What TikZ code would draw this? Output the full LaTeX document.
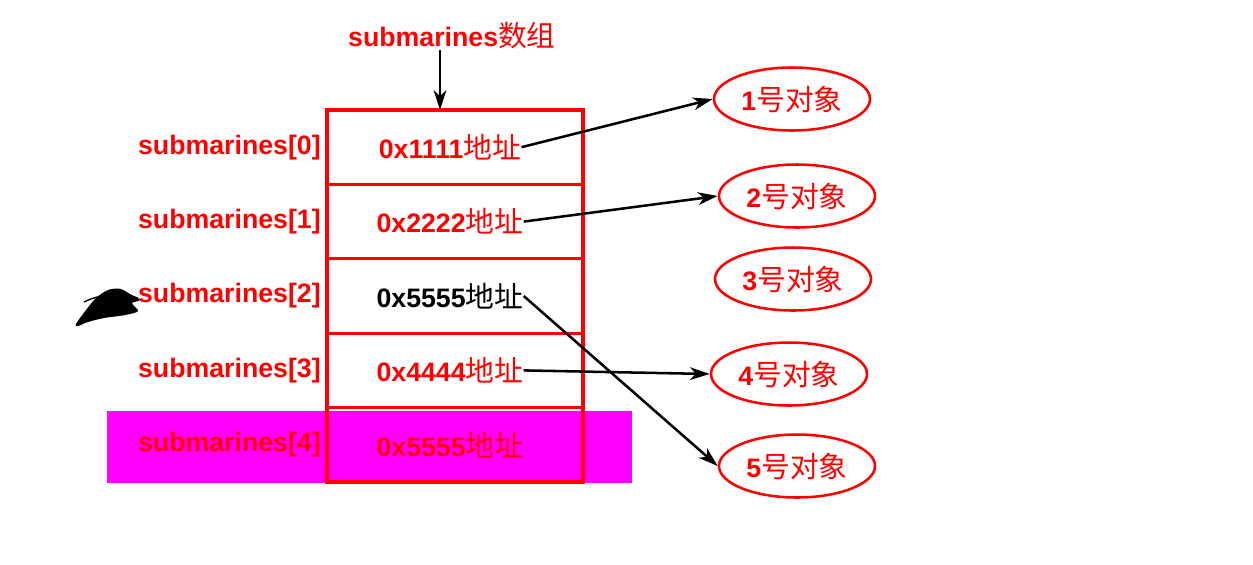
\documentclass[tikz,border=0pt]{standalone}
\usepackage{fontspec}
\setmainfont{Liberation Sans}
\newfontfamily\cjk[Scale=1.08]{Noto Sans CJK SC}
\usetikzlibrary{positioning,shapes.geometric,arrows.meta}
\pgfdeclarelayer{bg}
\pgfsetlayers{bg,main}
\definecolor{hilite}{RGB}{255,0,255}
\tikzset{
    every node/.style={inner sep=0mm, font=\fontsize{19}{22}\selectfont\bfseries}
}
\tikzset{
    cell/.style={rectangle, draw=red, line width=2.2pt, outer sep=0pt, minimum width=6.4cm, minimum height=1.86cm},
    addr/.style={text=red},
    idx/.style={text=red},
    obj/.style={ellipse, draw=red, line width=1.8pt, minimum width=3.9cm, minimum height=1.575cm, text=red},
    link/.style={-{Stealth[length=14pt,width=9pt,inset=4pt]}, line width=1.8pt}
}
\newcommand{\zh}[1]{{\cjk\mdseries #1}}

\begin{document}
\begin{tikzpicture}
    \useasboundingbox (0,0) rectangle (31.325,-14.1);

    \node (title) [text=red] at (11.3cm, -0.9cm) {submarines\zh{数组}};
    \coordinate (top) at (11.0cm, -2.75cm);

    \node (c0) [cell] at (11.375cm, -3.68cm) {};
    \node (c1) [cell] at (11.375cm, -5.54cm) {};
    \node (c2) [cell] at (11.375cm, -7.40cm) {};
    \node (c3) [cell] at (11.375cm, -9.26cm) {};
    \node (c4) [cell] at (11.375cm, -11.12cm) {};

    \node (a0) [addr] at (11.25cm, -3.68cm) {0x1111\zh{地址}};
    \node (a1) [addr] at (11.25cm, -5.54cm) {0x2222\zh{地址}};
    \node (a2) [text=black] at (11.25cm, -7.40cm) {0x5555\zh{地址}};
    \node (a3) [addr] at (11.25cm, -9.26cm) {0x4444\zh{地址}};
    \node (a4) [addr] at (11.25cm, -11.12cm) {0x5555\zh{地址}};

    \node (i0) [idx, left=0.15cm of c0] {submarines[0]};
    \node (i1) [idx, left=0.15cm of c1] {submarines[1]};
    \node (i2) [idx, left=0.15cm of c2] {submarines[2]};
    \node (i3) [idx, left=0.15cm of c3] {submarines[3]};
    \node (i4) [idx, left=0.15cm of c4] {submarines[4]};

    \node (o1) [obj] at (19.8cm, -2.475cm) {1\zh{号对象}};
    \node (o2) [obj] at (19.925cm, -4.9cm) {2\zh{号对象}};
    \node (o3) [obj] at (19.825cm, -6.975cm) {3\zh{号对象}};
    \node (o4) [obj] at (19.725cm, -9.35cm) {4\zh{号对象}};
    \node (o5) [obj] at (19.925cm, -11.65cm) {5\zh{号对象}};

    \begin{pgfonlayer}{bg}
        \fill [hilite] (2.675cm, -10.275cm) rectangle (15.8cm, -12.075cm);
    \end{pgfonlayer}

    % scribble
    \fill [black] plot [smooth cycle] coordinates {(1.9,-8.1) (2.15,-7.75) (2.4,-7.45) (2.7,-7.25) (3.0,-7.22) (3.25,-7.35) (3.5,-7.5) (3.3,-7.58) (3.45,-7.78) (3.1,-7.88) (2.6,-7.95) (2.2,-8.05) (1.95,-8.15)};
    \draw [black, line width=1pt] (2.1,-7.55) .. controls (2.6,-7.3) and (3.1,-7.35) .. (3.45,-7.45);

    \draw [link] (title.south -| top) -- (top);
    \draw [link] (a0.east) -- (o1.west);
    \draw [link] (a1.east) -- (o2.west);
    \draw [link] (a2.east) -- (o5.west);
    \draw [link] (a3.east) -- (o4.west);
\end{tikzpicture}
\end{document}
